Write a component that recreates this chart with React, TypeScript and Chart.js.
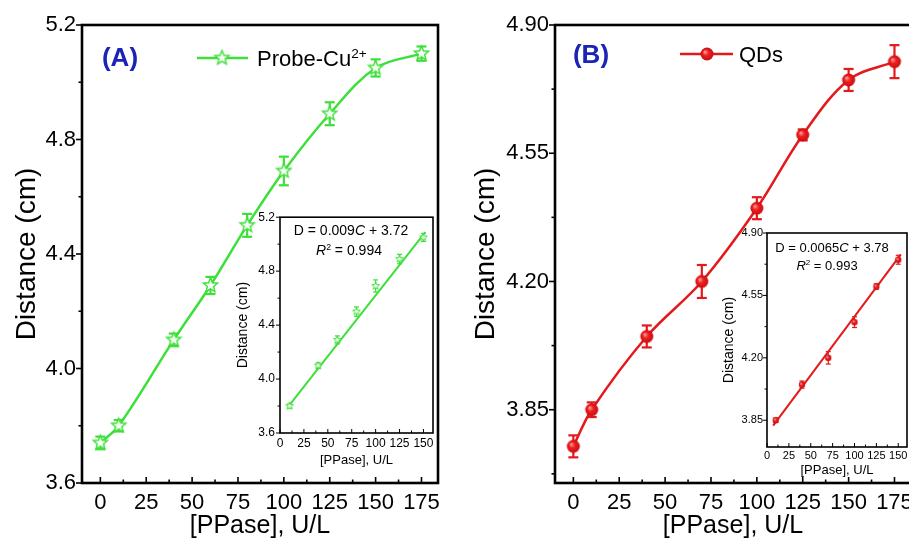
import React, { useEffect, useRef } from 'react';
import { Chart, registerables } from 'chart.js';

Chart.register(...registerables);

const FONT = "'Liberation Sans', Arial, Helvetica, sans-serif";
const GREEN = '#3ddf3a';
const RED = '#e3191c';
const BLUE = '#1b24b5';

// ---- Panel A (main) data
const concA = [0, 10, 40, 60, 80, 100, 125, 150, 175];
const distA = [3.74, 3.8, 4.1, 4.29, 4.5, 4.69, 4.89, 5.05, 5.1];
const errA = [0.022, 0.02, 0.022, 0.03, 0.04, 0.05, 0.04, 0.03, 0.025];
// ---- Panel A inset data
const concAin = [10, 40, 60, 80, 100, 125, 150];
const distAin = [3.8, 4.1, 4.29, 4.5, 4.69, 4.89, 5.05];
const errAin = [0.015, 0.02, 0.03, 0.035, 0.045, 0.035, 0.03];
const fitAx = [8, 152];
const fitAy = [3.79, 5.09];
// ---- Panel B (main) data
const concB = [0, 10, 40, 70, 100, 125, 150, 175];
const distB = [3.75, 3.85, 4.05, 4.2, 4.4, 4.6, 4.75, 4.8];
const errB = [0.03, 0.02, 0.03, 0.045, 0.03, 0.015, 0.03, 0.045];
// ---- Panel B inset data
const concBin = [10, 40, 70, 100, 125, 150];
const distBin = [3.85, 4.05, 4.2, 4.4, 4.6, 4.75];
const errBin = [0.012, 0.02, 0.035, 0.03, 0.015, 0.025];
const fitBx = [7, 153];
const fitBy = [3.82, 4.78];

// ---- tick values
const xTicksMain = [0, 25, 50, 75, 100, 125, 150, 175];
const xMinorMain = [12.5, 37.5, 62.5, 87.5, 112.5, 137.5, 162.5];
const xTicksInset = [0, 25, 50, 75, 100, 125, 150];
const xMinorInset = [12.5, 37.5, 62.5, 87.5, 112.5, 137.5];
const yTicksA = [3.6, 4.0, 4.4, 4.8, 5.2];
const yMinorA = [3.8, 4.2, 4.6, 5.0];
const yTicksB = [3.85, 4.2, 4.55, 4.9];
const yMinorB = [3.675, 4.025, 4.375, 4.725];
const yMinorBin = [4.025, 4.375, 4.725];

type Spec = {
  left: number; top: number; w: number; h: number;
  yAxisW: number; xAxisH: number; padTop: number; padRight: number;
  xMin: number; xMax: number; yMin: number; yMax: number;
  xTicks: number[]; xMinor: number[]; yTicks: number[]; yMinor: number[]; yDec: number;
  tickFont: number; tickPadX: number; tickPadY: number;
  xTitleFont: number; xTitlePad: number; yTitleFont: number; yTitlePad: number;
  xs: number[]; ys: number[]; errs: number[];
  color: string; lineW: number; marker: string;
  fitX?: number[]; fitY?: number[];
  frameW: number; majorLen: number; minorLen: number; tickW: number;
  ebCap: number; ebW: number;
  legend?: { x1: number; x2: number; y: number; mx: number };
};

function makeMarker(kind: string): HTMLCanvasElement {
  const c = document.createElement('canvas');
  const ctx = c.getContext('2d')!;
  if (kind === 'star' || kind === 'starS') {
    const R = kind === 'star' ? 7.5 : 4;
    const r = R * 0.45;
    const size = Math.ceil(R * 2 + 4);
    c.width = size; c.height = size;
    ctx.translate(size / 2, size / 2);
    ctx.beginPath();
    for (let i = 0; i < 10; i++) {
      const a = -Math.PI / 2 + (i * Math.PI) / 5;
      const rr = i % 2 ? r : R;
      ctx.lineTo(rr * Math.cos(a), rr * Math.sin(a));
    }
    ctx.closePath();
    ctx.fillStyle = '#f2fdef';
    ctx.fill();
    ctx.lineWidth = kind === 'star' ? 1.4 : 1;
    ctx.strokeStyle = GREEN;
    ctx.stroke();
  } else {
    const R = kind === 'ball' ? 6.5 : 3.2;
    const size = Math.ceil(R * 2 + 3);
    c.width = size; c.height = size;
    ctx.translate(size / 2, size / 2);
    const g = ctx.createRadialGradient(-R * 0.35, -R * 0.35, 0, 0, 0, R);
    g.addColorStop(0, kind === 'ball' ? '#ffb0b0' : '#fbd0d0');
    g.addColorStop(0.45, '#f02020');
    g.addColorStop(1, '#c80c10');
    ctx.beginPath();
    ctx.arc(0, 0, R, 0, Math.PI * 2);
    ctx.fillStyle = g;
    ctx.fill();
  }
  return c;
}

function buildChart(canvas: HTMLCanvasElement, s: Spec) {
  const marker = makeMarker(s.marker);
  const datasets: any[] = [
    {
      data: s.xs.map((x, i) => ({ x, y: s.ys[i] })),
      showLine: !s.fitX,
      borderColor: s.color,
      backgroundColor: s.color,
      borderWidth: s.lineW,
      tension: 0.35,
      cubicInterpolationMode: 'default',
      pointStyle: marker,
      pointRadius: 5,
      order: 1,
    },
  ];
  if (s.fitX && s.fitY) {
    datasets.push({
      data: s.fitX.map((x, i) => ({ x, y: s.fitY![i] })),
      showLine: true,
      borderColor: s.color,
      borderWidth: s.lineW,
      pointRadius: 0,
      tension: 0,
      order: 2,
    });
  }
  const line = (ctx: CanvasRenderingContext2D, x1: number, y1: number, x2: number, y2: number) => {
    ctx.beginPath();
    ctx.moveTo(x1, y1);
    ctx.lineTo(x2, y2);
    ctx.stroke();
  };
  const deco = {
    id: 'deco',
    beforeDatasetsDraw(chart: any) {
      const { ctx, scales: { x, y } } = chart;
      ctx.save();
      ctx.strokeStyle = s.color;
      ctx.lineWidth = s.ebW;
      s.xs.forEach((xv, i) => {
        const px = x.getPixelForValue(xv);
        const p1 = y.getPixelForValue(s.ys[i] - s.errs[i]);
        const p2 = y.getPixelForValue(s.ys[i] + s.errs[i]);
        line(ctx, px, p1, px, p2);
        line(ctx, px - s.ebCap, p1, px + s.ebCap, p1);
        line(ctx, px - s.ebCap, p2, px + s.ebCap, p2);
      });
      ctx.restore();
    },
    afterDraw(chart: any) {
      const { ctx, chartArea: a, scales: { x, y } } = chart;
      ctx.save();
      ctx.strokeStyle = '#000';
      ctx.lineWidth = s.tickW;
      s.xTicks.forEach((v) => { const p = x.getPixelForValue(v); line(ctx, p, a.bottom, p, a.bottom - s.majorLen); });
      s.xMinor.forEach((v) => { const p = x.getPixelForValue(v); line(ctx, p, a.bottom, p, a.bottom - s.minorLen); });
      s.yTicks.forEach((v) => { const p = y.getPixelForValue(v); line(ctx, a.left, p, a.left - s.majorLen, p); });
      s.yMinor.forEach((v) => { const p = y.getPixelForValue(v); line(ctx, a.left, p, a.left - s.minorLen, p); });
      ctx.lineWidth = s.frameW;
      ctx.strokeRect(a.left, a.top, a.right - a.left, a.bottom - a.top);
      if (s.legend) {
        const L = s.legend;
        ctx.strokeStyle = s.color;
        ctx.lineWidth = s.lineW;
        line(ctx, L.x1, L.y, L.x2, L.y);
        ctx.drawImage(marker, L.mx - marker.width / 2, L.y - marker.height / 2);
      }
      ctx.restore();
    },
  };
  return new Chart(canvas, {
    type: 'scatter',
    data: { datasets },
    options: {
      responsive: false,
      maintainAspectRatio: false,
      animation: false,
      layout: { padding: { top: s.padTop, right: s.padRight, left: 0, bottom: 0 } },
      plugins: { legend: { display: false }, tooltip: { enabled: false } },
      scales: {
        x: {
          type: 'linear',
          min: s.xMin,
          max: s.xMax,
          afterBuildTicks: (sc: any) => { sc.ticks = s.xTicks.map((v) => ({ value: v })); },
          afterFit: (sc: any) => { sc.height = s.xAxisH; },
          grid: { display: false, drawTicks: false, tickLength: 0 },
          border: { display: false },
          ticks: {
            autoSkip: false,
            maxRotation: 0,
            padding: s.tickPadX,
            color: '#000',
            font: { family: FONT, size: s.tickFont },
            callback: (v: any) => String(v),
          },
          title: {
            display: true,
            text: '[PPase], U/L',
            color: '#000',
            font: { family: FONT, size: s.xTitleFont },
            padding: { top: 0, bottom: s.xTitlePad },
          },
        },
        y: {
          type: 'linear',
          min: s.yMin,
          max: s.yMax,
          afterBuildTicks: (sc: any) => { sc.ticks = s.yTicks.map((v) => ({ value: v })); },
          afterFit: (sc: any) => { sc.width = s.yAxisW; },
          grid: { display: false, drawTicks: false, tickLength: 0 },
          border: { display: false },
          ticks: {
            autoSkip: false,
            padding: s.tickPadY,
            color: '#000',
            font: { family: FONT, size: s.tickFont },
            callback: (v: any) => Number(v).toFixed(s.yDec),
          },
          title: {
            display: true,
            text: 'Distance (cm)',
            color: '#000',
            font: { family: FONT, size: s.yTitleFont },
            padding: { top: s.yTitlePad, bottom: 0 },
          },
        },
      },
    } as any,
    plugins: [deco],
  });
}

const mainBase = {
  top: 0, h: 543, xAxisH: 60, padTop: 25, padRight: 12,
  xMin: -10, xMax: 184, xTicks: xTicksMain, xMinor: xMinorMain,
  tickFont: 22, tickPadX: 7, tickPadY: 6,
  xTitleFont: 25, xTitlePad: 2, yTitleFont: 28,
  lineW: 2.5, frameW: 2.6, majorLen: 6, minorLen: 3.5, tickW: 1.6,
  ebCap: 5, ebW: 2.2,
};

const specA: Spec = {
  ...mainBase, left: 0, w: 450, yAxisW: 82, yTitlePad: 10,
  yMin: 3.6, yMax: 5.2, yTicks: yTicksA, yMinor: yMinorA, yDec: 1,
  xs: concA, ys: distA, errs: errA, color: GREEN, marker: 'star',
  legend: { x1: 197, x2: 248, y: 58, mx: 222 },
};

const specB: Spec = {
  ...mainBase, left: 460, w: 463, yAxisW: 95, yTitlePad: 9,
  yMin: 3.65, yMax: 4.9, yTicks: yTicksB, yMinor: yMinorB, yDec: 2,
  xs: concB, ys: distB, errs: errB, color: RED, marker: 'ball',
  legend: { x1: 220, x2: 273, y: 54, mx: 247 },
};

const specAin: Spec = {
  left: 230, top: 205, w: 215, h: 270, yAxisW: 50, xAxisH: 42, padTop: 11, padRight: 12,
  xMin: 0, xMax: 160, yMin: 3.6, yMax: 5.2,
  xTicks: xTicksInset, xMinor: xMinorInset, yTicks: yTicksA, yMinor: yMinorA, yDec: 1,
  tickFont: 12, tickPadX: 3, tickPadY: 5,
  xTitleFont: 13, xTitlePad: 7, yTitleFont: 14, yTitlePad: 5,
  xs: concAin, ys: distAin, errs: errAin, color: GREEN, lineW: 2, marker: 'starS',
  fitX: fitAx, fitY: fitAy,
  frameW: 1.6, majorLen: 4, minorLen: 2.5, tickW: 1,
  ebCap: 2.5, ebW: 1.2,
};

const specBin: Spec = {
  left: 715, top: 222, w: 200, h: 258, yAxisW: 52, xAxisH: 33, padTop: 11, padRight: 8,
  xMin: 0, xMax: 160, yMin: 3.7, yMax: 4.9,
  xTicks: xTicksInset, xMinor: xMinorInset, yTicks: yTicksB, yMinor: yMinorBin, yDec: 2,
  tickFont: 11, tickPadX: 2, tickPadY: 4,
  xTitleFont: 13, xTitlePad: 2, yTitleFont: 14, yTitlePad: 6,
  xs: concBin, ys: distBin, errs: errBin, color: RED, lineW: 2, marker: 'ballS',
  fitX: fitBx, fitY: fitBy,
  frameW: 1.6, majorLen: 4, minorLen: 2.5, tickW: 1,
  ebCap: 2.5, ebW: 1.2,
};

function Panel({ spec }: { spec: Spec }) {
  const ref = useRef<HTMLCanvasElement>(null);
  useEffect(() => {
    const chart = buildChart(ref.current!, spec);
    return () => chart.destroy();
  }, []);
  return (
    <canvas
      ref={ref}
      width={spec.w}
      height={spec.h}
      style={{ position: 'absolute', left: spec.left, top: spec.top, width: spec.w, height: spec.h }}
    />
  );
}

function Txt(props: { x: number; y: number; size: number; color?: string; bold?: boolean; start?: boolean; children: any }) {
  const { x, y, size, color = '#000', bold = false, start = false, children } = props;
  return (
    <div
      style={{
        position: 'absolute', left: x, top: y,
        transform: start ? 'translate(0,-50%)' : 'translate(-50%,-50%)',
        fontFamily: FONT, fontSize: size, color, fontWeight: bold ? 700 : 400,
        whiteSpace: 'nowrap', lineHeight: 1,
      }}
    >
      {children}
    </div>
  );
}

const sup = (t: string) => (
  <span style={{ fontSize: '0.62em', position: 'relative', top: '-0.6em' }}>{t}</span>
);

export default function App() {
  return (
    <div style={{ position: 'absolute', left: 0, top: 0, width: 909, height: 543, overflow: 'hidden', background: '#fff' }}>
      <Panel spec={specA} />
      <Panel spec={specB} />
      <Panel spec={specAin} />
      <Panel spec={specBin} />
      <Txt x={120} y={57} size={26} color={BLUE} bold>(A)</Txt>
      <Txt x={591} y={54} size={26} color={BLUE} bold>(B)</Txt>
      <Txt x={257} y={59} size={22} start>Probe-Cu{sup('2+')}</Txt>
      <Txt x={739} y={55} size={22} start>QDs</Txt>
      <Txt x={351} y={230} size={14}>D = 0.009<i>C</i> + 3.72</Txt>
      <Txt x={349} y={250} size={14}><i>R</i>{sup('2')} = 0.994</Txt>
      <Txt x={832} y={247} size={13}>D = 0.0065<i>C</i> + 3.78</Txt>
      <Txt x={827} y={266} size={13}><i>R</i>{sup('2')} = 0.993</Txt>
    </div>
  );
}
